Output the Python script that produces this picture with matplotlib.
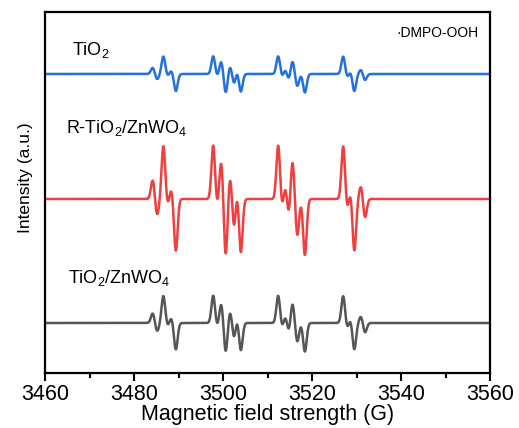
import numpy as np
import matplotlib
matplotlib.use('Agg')
from matplotlib import pyplot as plt

plt.rcParams['font.family'] = ['Liberation Sans', 'DejaVu Sans']
plt.rcParams['mathtext.fontset'] = 'custom'
plt.rcParams['mathtext.rm'] = 'Liberation Sans'

# turning points of the first-derivative EPR signal (field in G, height in a.u.)
peak_field = [3484.2, 3485.2, 3486.6, 3487.7, 3488.3, 3489.4,
              3497.8, 3498.7, 3499.6, 3500.6, 3501.6, 3502.5, 3503.1, 3504.0,
              3512.4, 3513.3, 3514.0, 3514.8, 3515.6, 3516.7, 3517.3, 3518.4,
              3527.0, 3528.0, 3528.6, 3529.5, 3531.0, 3531.9]
peak_height = [19, -16, 53, -7, 11, -52,
               54, -7, 38, -57, 23, -31, 11, -54,
               54, -9, 13, -17, 39, -37, 1, -56,
               53, -11, 9, -52, 13, -19]
peak_sigma = 0.40

# relative intensity and vertical offset of each sample
labels = ['TiO$_2$', 'R-TiO$_2$/ZnWO$_4$', 'TiO$_2$/ZnWO$_4$']
scales = [0.33, 1.0, 0.51]
offsets = [299, 174, 50]
colors = ['#2470dc', '#ef3f3f', '#565656']
label_x = [3466.1, 3464.7, 3465.2]
label_y = [323, 245, 95]

field = np.arange(3460, 3560.01, 0.05)
signal = np.zeros_like(field)
for f0, h in zip(peak_field, peak_height):
    signal += h * np.exp(-(field - f0) ** 2 / (2 * peak_sigma ** 2))

fig = plt.figure(figsize=(5.19, 4.28), dpi=100)
ax = fig.add_axes([0.0867, 0.1285, 0.8575, 0.8435])

for s, off, col in zip(scales, offsets, colors):
    ax.plot(field, off + s * signal, color=col, lw=1.8)

for lab, x, y in zip(labels, label_x, label_y):
    ax.text(x, y, lab, fontsize=13, va='center', ha='left')

ax.text(3557.5, 340, '·DMPO-OOH', fontsize=10, va='center', ha='right')

ax.set_xlim(3460, 3560)
ax.set_ylim(0, 361)
ax.set_xticks(np.arange(3460, 3561, 20))
ax.set_xticks(np.arange(3470, 3560, 20), minor=True)
ax.set_yticks([])
ax.tick_params(axis='x', which='major', length=6, width=1.5, labelsize=15.5, direction='out', pad=2)
ax.tick_params(axis='x', which='minor', length=3.5, width=1.5, direction='out')
for sp in ax.spines.values():
    sp.set_linewidth(1.6)

ax.set_xlabel('Magnetic field strength (G)', fontsize=15.5, labelpad=-1)
ax.set_ylabel('Intensity (a.u.)', fontsize=12.5)
ax.yaxis.set_label_coords(-0.027, 0.54)

fig.savefig('out.png', dpi=100)
